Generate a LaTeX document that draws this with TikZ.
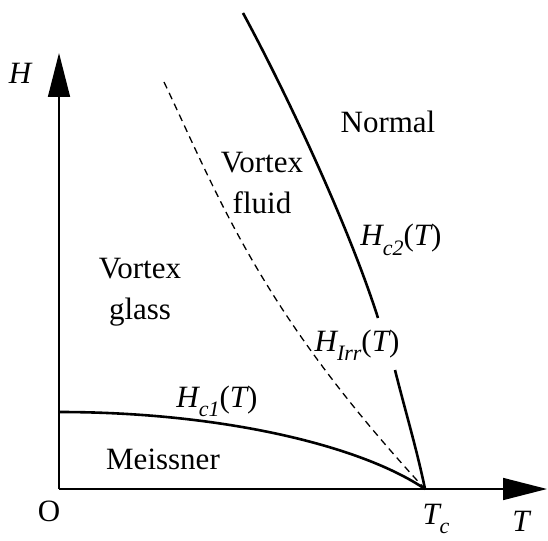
\documentclass[tikz,border=0pt]{standalone}
\usepackage{fontspec}
\setmainfont{Liberation Serif}
\usetikzlibrary{arrows.meta}
\newcommand{\lbsub}[1]{\raisebox{-0.3em}{\fontsize{22}{24}\selectfont\itshape #1}}
\begin{document}
\begin{tikzpicture}[x=1pt,y=-1pt,
  lbl/.style={font=\fontsize{31}{41}\selectfont, inner sep=0pt, align=center},
  axisline/.style={line width=1.6pt, -{Triangle[length=44pt,width=22pt]}},
  phaseline/.style={line width=2.6pt},
  irrline/.style={line width=1.3pt, dash pattern=on 7pt off 5pt}]
\useasboundingbox (0,0) rectangle (548,540);
\coordinate (O) at (59,489);
\coordinate (Htip) at (59,53);
\coordinate (Ttip) at (547,489);
\coordinate (Tc) at (425,489);
\coordinate (c2top) at (243,13);
\coordinate (c2gapA) at (378,318);
\coordinate (c2gapB) at (395,370);
\coordinate (irrtop) at (164,82);
\coordinate (c1start) at (59,412);
% axes
\draw[axisline] (O) -- (Htip);
\draw[axisline] (O) -- (Ttip);
% Hc2
\draw[phaseline] (c2top) .. controls (290,100) and (350,230) .. (c2gapA);
\draw[phaseline] (c2gapB) .. controls (405,410) and (417,450) .. (Tc);
% Hirr
\draw[irrline] (irrtop) .. controls (220,200) and (260,310) .. (Tc);
% Hc1
\draw[phaseline] (c1start) .. controls (220,412) and (360,445) .. (Tc);
% labels
\node[lbl] (hlab) at (20,73) {\itshape H};
\node[lbl] (olab) at (49,511) {O};
\node[lbl] (tclab) at (436,519) {\itshape T\lbsub{c}};
\node[lbl] (tlab) at (521,521) {\itshape T};
\node[lbl] (meiss) at (163,459) {Meissner};
\node[lbl] (hc1) at (217,401) {\itshape H\lbsub{c1}\upshape(\itshape T\upshape)};
\node[lbl] (vglass) at (140,292) {Vortex\\glass};
\node[lbl] (vfluid) at (262,183) {Vortex\\fluid};
\node[lbl] (normal) at (388,122) {Normal};
\node[lbl] (hc2) at (401,240) {\itshape H\lbsub{c2}\upshape(\itshape T\upshape)};
\node[lbl] (hirr) at (357,345) {\itshape H\lbsub{Irr}\upshape(\itshape T\upshape)};
\end{tikzpicture}
\end{document}
